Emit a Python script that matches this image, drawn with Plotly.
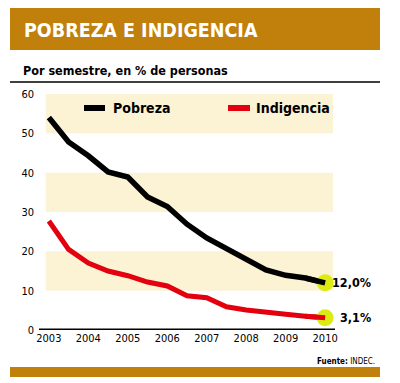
import plotly.graph_objects as go

# ---- data ----
periods = [2003.0, 2003.5, 2004.0, 2004.5, 2005.0, 2005.5, 2006.0, 2006.5,
           2007.0, 2007.5, 2008.0, 2008.5, 2009.0, 2009.5, 2010.0]
pobreza = [54.0, 47.8, 44.3, 40.2, 38.9, 33.8, 31.4, 26.9,
           23.4, 20.6, 17.8, 15.3, 13.9, 13.2, 12.0]
indigencia = [27.7, 20.5, 17.0, 15.0, 13.8, 12.2, 11.2, 8.7,
              8.2, 5.9, 5.1, 4.4, 4.0, 3.5, 3.1]
year_ticks = [2003, 2004, 2005, 2006, 2007, 2008, 2009, 2010]
y_ticks = [0, 10, 20, 30, 40, 50, 60]
band_ranges = [(10, 20), (30, 40), (50, 60)]

title = "POBREZA E INDIGENCIA"
subtitle = "Por semestre, en % de personas"
source = "<b>Fuente:</b> INDEC."

# ---- styling ----
W, H = 400, 383
L, R, T, B = 39, 335, 94, 330
GOLD = "#c17f0c"
BAND = "#fcf2d4"
BLACK = "#000000"
RED = "#e3000f"
HILITE = "#dcec12"
FONT = "DejaVu Sans Condensed, Liberation Sans Narrow, sans-serif"


def px(x):
    return (x - L) / (R - L)


def py(y):
    return (B - y) / (B - T)


def fmt(v):
    return f"{v:.1f}".replace(".", ",") + "%"


fig = go.Figure()

fig.add_trace(go.Scatter(x=periods, y=indigencia, mode="lines",
                         line=dict(color=RED, width=5), name="Indigencia",
                         showlegend=False))
fig.add_trace(go.Scatter(x=periods, y=pobreza, mode="lines",
                         line=dict(color=BLACK, width=5.5), name="Pobreza",
                         showlegend=False))
fig.add_trace(go.Scatter(x=[periods[-1], periods[-1]],
                         y=[pobreza[-1], indigencia[-1]], mode="markers",
                         marker=dict(color=HILITE, size=17, line=dict(width=0)),
                         showlegend=False, cliponaxis=False))
# redraw line ends over the markers
fig.add_trace(go.Scatter(x=periods[-2:], y=pobreza[-2:], mode="lines",
                         line=dict(color=BLACK, width=5.5), showlegend=False))
fig.add_trace(go.Scatter(x=periods[-2:], y=indigencia[-2:], mode="lines",
                         line=dict(color=RED, width=5), showlegend=False))

shapes = []
x0_band = periods[0] - 0.08
x1_band = periods[-1] + 0.2
for lo, hi in band_ranges:
    shapes.append(dict(type="rect", xref="x", yref="y", x0=x0_band, x1=x1_band,
                       y0=lo, y1=hi, fillcolor=BAND, line=dict(width=0),
                       layer="below"))
# title bar
shapes.append(dict(type="rect", xref="paper", yref="paper", x0=px(10), x1=px(380),
                   y0=py(50), y1=py(8), fillcolor=GOLD, line=dict(width=0)))
# subtitle rule
shapes.append(dict(type="line", xref="paper", yref="paper", x0=px(10), x1=px(380),
                   y0=py(82), y1=py(82), line=dict(color=BLACK, width=1.5)))
# bottom bar
shapes.append(dict(type="rect", xref="paper", yref="paper", x0=px(10), x1=px(380),
                   y0=py(377), y1=py(367), fillcolor=GOLD, line=dict(width=0)))
# baseline
shapes.append(dict(type="line", xref="paper", yref="y", x0=0, x1=1, y0=0, y1=0,
                   line=dict(color=BLACK, width=3)))
# legend swatches
shapes.append(dict(type="line", xref="paper", yref="paper", x0=px(84), x1=px(105),
                   y0=py(108), y1=py(108), line=dict(color=BLACK, width=6)))
shapes.append(dict(type="line", xref="paper", yref="paper", x0=px(228), x1=px(250),
                   y0=py(108), y1=py(108), line=dict(color=RED, width=6)))

annotations = [
    dict(text=f"<b>{title}</b>", xref="paper", yref="paper", x=px(22), y=py(30),
         xanchor="left", yanchor="middle", showarrow=False,
         font=dict(family=FONT, size=19.5, color="white")),
    dict(text=f"<b>{subtitle}</b>", xref="paper", yref="paper", x=px(21), y=py(70),
         xanchor="left", yanchor="middle", showarrow=False,
         font=dict(family=FONT, size=12.5, color=BLACK)),
    dict(text="<b>Pobreza</b>", xref="paper", yref="paper", x=px(111), y=py(108),
         xanchor="left", yanchor="middle", showarrow=False,
         font=dict(family=FONT, size=14, color=BLACK)),
    dict(text="<b>Indigencia</b>", xref="paper", yref="paper", x=px(254), y=py(108),
         xanchor="left", yanchor="middle", showarrow=False,
         font=dict(family=FONT, size=14, color=BLACK)),
    dict(text=f"<b>{fmt(pobreza[-1])}</b>", xref="x", yref="y", x=periods[-1],
         y=pobreza[-1], xanchor="right", yanchor="middle", xshift=48,
         showarrow=False, font=dict(family=FONT, size=12.5, color=BLACK)),
    dict(text=f"<b>{fmt(indigencia[-1])}</b>", xref="x", yref="y", x=periods[-1],
         y=indigencia[-1], xanchor="right", yanchor="middle", xshift=48,
         showarrow=False, font=dict(family=FONT, size=12.5, color=BLACK)),
    dict(text=source, xref="paper", yref="paper", x=px(377), y=py(361),
         xanchor="right", yanchor="middle", showarrow=False,
         font=dict(family=FONT, size=8, color=BLACK)),
]

fig.update_layout(
    width=W, height=H,
    margin=dict(l=L, r=W - R, t=T, b=H - B, pad=0),
    paper_bgcolor="white", plot_bgcolor="white",
    shapes=shapes, annotations=annotations,
    showlegend=False,
    xaxis=dict(range=[2002.75, 2010.25], tickvals=year_ticks,
               ticktext=[str(y) for y in year_ticks], showgrid=False,
               zeroline=False, showline=False, ticks="",
               tickfont=dict(family=FONT, size=11, color=BLACK),
               fixedrange=True),
    yaxis=dict(range=[0, 60], tickvals=y_ticks, showgrid=False, zeroline=False,
               showline=False, ticks="", ticklabelstandoff=4,
               tickfont=dict(family=FONT, size=11, color=BLACK),
               fixedrange=True),
)

fig.write_html("out.html", config=dict(displayModeBar=False),
               post_script="document.body.style.margin='0';")
